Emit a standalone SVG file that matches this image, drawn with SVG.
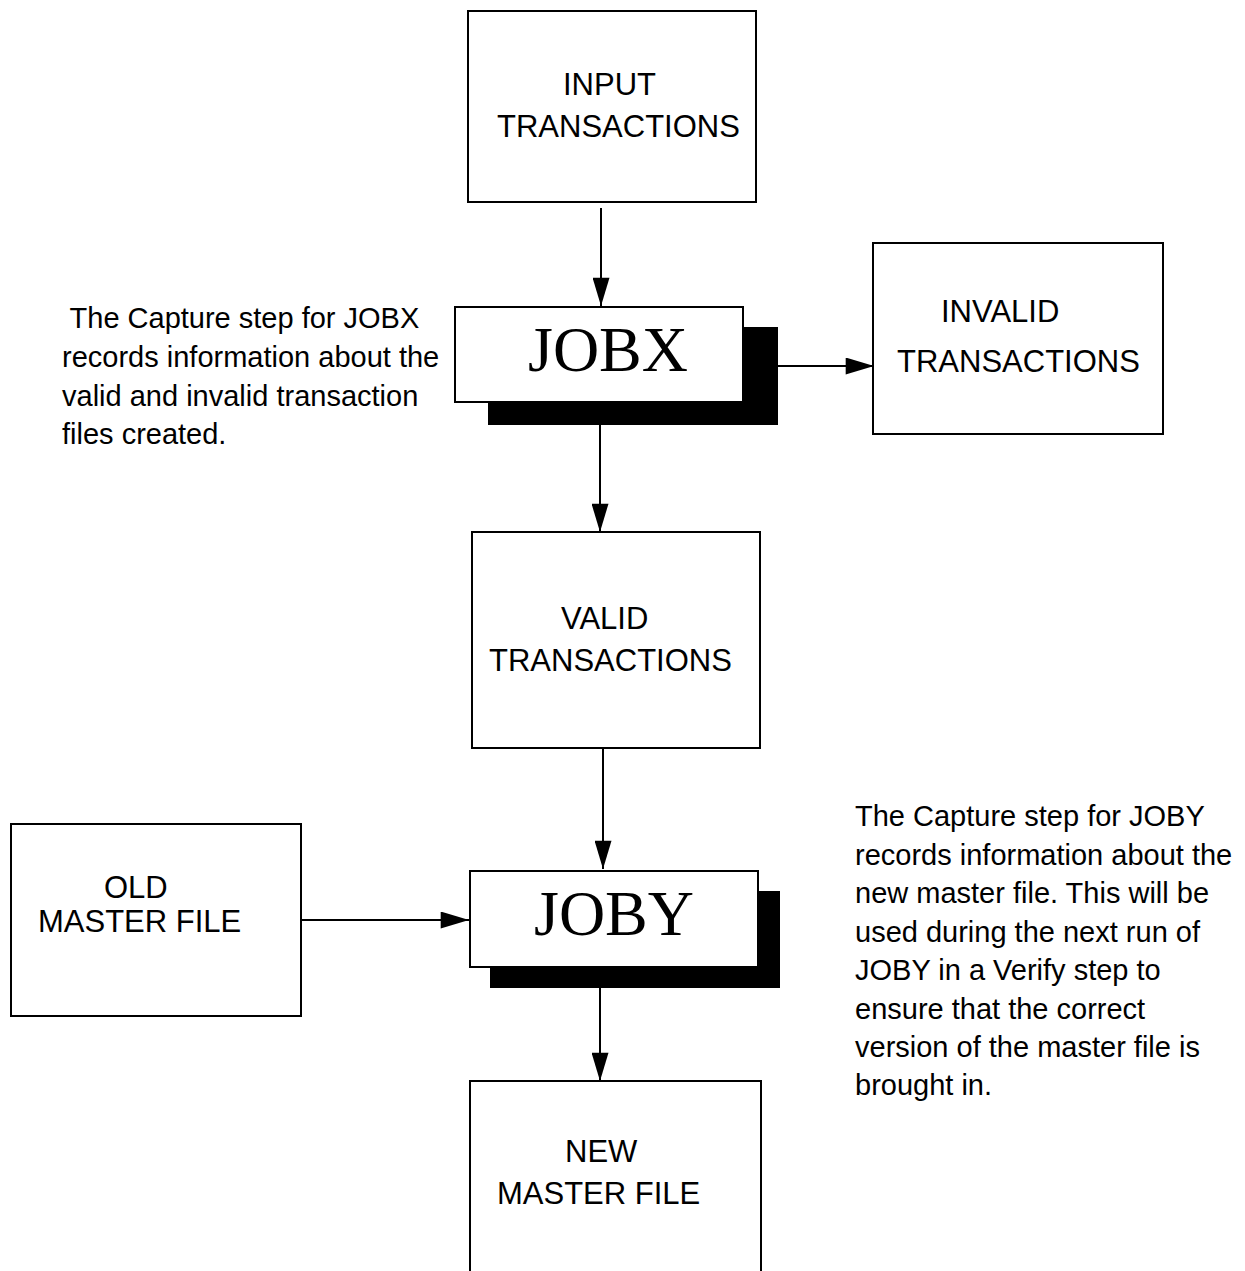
<svg xmlns="http://www.w3.org/2000/svg" width="1245" height="1271" viewBox="0 0 1245 1271">
<defs>
<style>
.box{fill:#fff;stroke:#000;stroke-width:2}
.sh{fill:#000}
.t{font-family:"Liberation Sans",Arial,sans-serif;font-size:31px;fill:#000}
.a{font-family:"Liberation Sans",Arial,sans-serif;font-size:29px;fill:#000}
.j{font-family:"Liberation Serif","Times New Roman",serif;font-size:64px;fill:#000}
.c{stroke:#000;stroke-width:2;fill:none}
</style>
<marker id="ah" viewBox="0 0 30 18" refX="30" refY="9" markerWidth="29" markerHeight="17" markerUnits="userSpaceOnUse" orient="auto">
<path d="M0,0 L30,9 L0,18 Z" fill="#000"/>
</marker>
</defs>
<rect width="1245" height="1271" fill="#fff"/>
<g id="connectors">
<line class="c" x1="601" y1="208" x2="601" y2="306" marker-end="url(#ah)"/>
<line class="c" x1="778" y1="366" x2="874" y2="366" marker-end="url(#ah)"/>
<line class="c" x1="600" y1="425" x2="600" y2="532" marker-end="url(#ah)"/>
<line class="c" x1="603" y1="749" x2="603" y2="869" marker-end="url(#ah)"/>
<line class="c" x1="302" y1="920" x2="469" y2="920" marker-end="url(#ah)"/>
<line class="c" x1="600" y1="988" x2="600" y2="1081" marker-end="url(#ah)"/>
</g>
<g id="input">
<rect class="box" x="468" y="11" width="288" height="191"/>
<text class="t" x="563" y="95">INPUT</text>
<text class="t" x="497" y="137">TRANSACTIONS</text>
</g>
<g id="jobx">
<rect class="sh" x="488" y="327" width="290" height="98"/>
<rect class="box" x="455" y="307" width="288" height="95"/>
<text class="j" x="608" y="371" text-anchor="middle">JOBX</text>
</g>
<g id="invalid">
<rect class="box" x="873" y="243" width="290" height="191"/>
<text class="t" x="941" y="322">INVALID</text>
<text class="t" x="897" y="372">TRANSACTIONS</text>
</g>
<g id="valid">
<rect class="box" x="472" y="532" width="288" height="216"/>
<text class="t" x="561" y="629">VALID</text>
<text class="t" x="489" y="671">TRANSACTIONS</text>
</g>
<g id="joby">
<rect class="sh" x="490" y="891" width="290" height="97"/>
<rect class="box" x="470" y="871" width="288" height="96"/>
<text class="j" x="614" y="935" text-anchor="middle">JOBY</text>
</g>
<g id="old">
<rect class="box" x="11" y="824" width="290" height="192"/>
<text class="t" x="104" y="898">OLD</text>
<text class="t" x="38" y="932">MASTER FILE</text>
</g>
<g id="new">
<rect class="box" x="470" y="1081" width="291" height="200"/>
<text class="t" x="565" y="1162">NEW</text>
<text class="t" x="497" y="1204">MASTER FILE</text>
</g>
<g id="note-jobx">
<text class="a" x="62" y="328" xml:space="preserve"> The Capture step for JOBX</text>
<text class="a" x="62" y="367">records information about the</text>
<text class="a" x="62" y="406">valid and invalid transaction</text>
<text class="a" x="62" y="444">files created.</text>
</g>
<g id="note-joby">
<text class="a" x="855" y="826">The Capture step for JOBY</text>
<text class="a" x="855" y="865">records information about the</text>
<text class="a" x="855" y="903">new master file. This will be</text>
<text class="a" x="855" y="942">used during the next run of</text>
<text class="a" x="855" y="980">JOBY in a Verify step to</text>
<text class="a" x="855" y="1019">ensure that the correct</text>
<text class="a" x="855" y="1057">version of the master file is</text>
<text class="a" x="855" y="1095">brought in.</text>
</g>
</svg>
